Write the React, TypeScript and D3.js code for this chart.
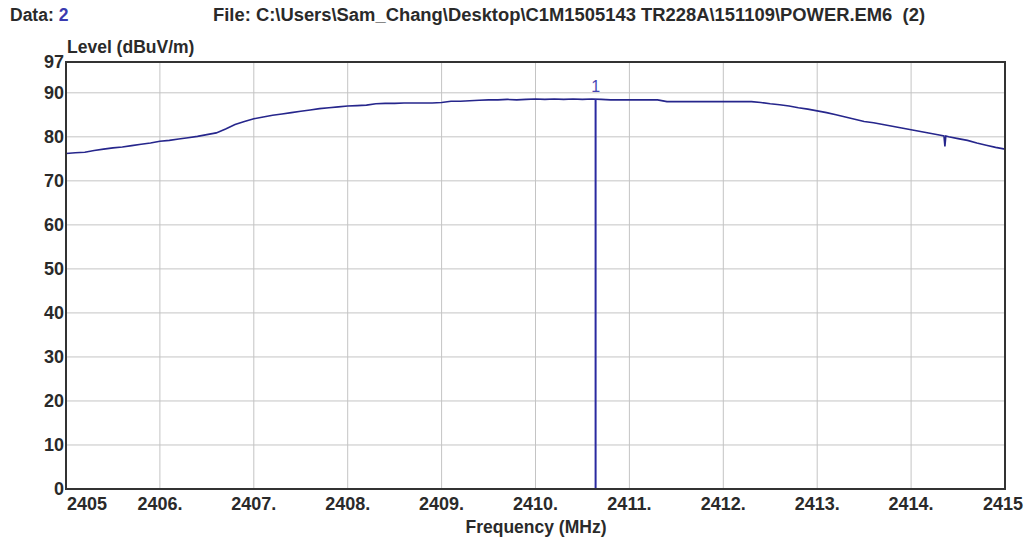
import React from "react";
import * as d3 from "d3";

const freq = [
  2405.0, 2405.1, 2405.2, 2405.3, 2405.4, 2405.5, 2405.6, 2405.7, 2405.8, 2405.9,
  2406.0, 2406.1, 2406.2, 2406.3, 2406.4, 2406.5, 2406.6, 2406.7, 2406.8, 2406.9,
  2407.0, 2407.1, 2407.2, 2407.3, 2407.4, 2407.5, 2407.6, 2407.7, 2407.8, 2407.9,
  2408.0, 2408.1, 2408.2, 2408.3, 2408.4, 2408.5, 2408.6, 2408.7, 2408.8, 2408.9,
  2409.0, 2409.1, 2409.2, 2409.3, 2409.4, 2409.5, 2409.6, 2409.7, 2409.8, 2409.9,
  2410.0, 2410.1, 2410.2, 2410.3, 2410.4, 2410.5, 2410.6, 2410.7, 2410.8, 2410.9,
  2411.0, 2411.1, 2411.2, 2411.3, 2411.4, 2411.5, 2411.6, 2411.7, 2411.8, 2411.9,
  2412.0, 2412.1, 2412.2, 2412.3, 2412.4, 2412.5, 2412.6, 2412.7, 2412.8, 2412.9,
  2413.0, 2413.1, 2413.2, 2413.3, 2413.4, 2413.5, 2413.6, 2413.7, 2413.8, 2413.9,
  2414.0, 2414.1, 2414.2, 2414.3, 2414.35, 2414.36, 2414.37, 2414.4, 2414.5, 2414.6,
  2414.7, 2414.8, 2414.9, 2415.0,
];

const level = [
  76.2, 76.4, 76.5, 76.9, 77.2, 77.5, 77.7, 78.0, 78.3, 78.6,
  79.0, 79.2, 79.5, 79.8, 80.1, 80.5, 80.9, 81.8, 82.8, 83.5,
  84.1, 84.5, 84.9, 85.2, 85.5, 85.8, 86.1, 86.4, 86.6, 86.8,
  87.0, 87.1, 87.2, 87.5, 87.6, 87.6, 87.7, 87.7, 87.7, 87.7,
  87.8, 88.1, 88.1, 88.2, 88.3, 88.4, 88.4, 88.5, 88.4, 88.5,
  88.6, 88.5, 88.6, 88.5, 88.6, 88.5, 88.6, 88.5, 88.4, 88.4,
  88.4, 88.4, 88.4, 88.4, 88.0, 88.0, 88.0, 88.0, 88.0, 88.0,
  88.0, 88.0, 88.0, 88.0, 87.8, 87.5, 87.3, 87.0, 86.6, 86.3,
  85.9, 85.5, 85.0, 84.5, 84.0, 83.5, 83.2, 82.8, 82.4, 82.0,
  81.6, 81.2, 80.8, 80.4, 80.2, 77.8, 80.2, 80.0, 79.6, 79.2,
  78.6, 78.1, 77.6, 77.2,
];

const xTicks = [2405, 2406, 2407, 2408, 2409, 2410, 2411, 2412, 2413, 2414, 2415];
const xTickLabels = ["2405", "2406.", "2407.", "2408.", "2409.", "2410.", "2411.", "2412.", "2413.", "2414.", "2415"];
const yTicks = [0, 10, 20, 30, 40, 50, 60, 70, 80, 90, 97];

const markerFreq = 2410.64;
const markerLevel = 88.6;
const markerLabel = "1";

const dataLabel = "Data: ";
const dataNum = "2";
const fileLabel = "File: C:\\Users\\Sam_Chang\\Desktop\\C1M1505143 TR228A\\151109\\POWER.EM6  (2)";
const yTitle = "Level (dBuV/m)";
const xTitle = "Frequency (MHz)";

export default function App() {
  const W = 1033;
  const H = 539;
  const left = 66, right = 1005, top = 62, bottom = 489;
  const x = d3.scaleLinear().domain([2405, 2415]).range([left, right]);
  const y = d3.scaleLinear().domain([0, 97]).range([bottom, top]);
  const pts: [number, number][] = freq.map((f, i) => [f, level[i]]);
  const line = d3
    .line<[number, number]>()
    .x((d) => x(d[0]))
    .y((d) => y(d[1]));
  const font = "'Liberation Sans', Arial, sans-serif";
  const txt = "#2a2a2a";
  const blue = "#26268c";

  return (
    <svg
      width={W}
      height={H}
      style={{ position: "absolute", left: 0, top: 0, background: "#fff" }}
      fontFamily={font}
    >
      <rect x={0} y={0} width={W} height={H} fill="#fff" />
      {/* header */}
      <text x={10} y={21} fontSize={17.5} fontWeight="bold" fill={txt}>
        {dataLabel}
        <tspan fill="#3a3ab0">{dataNum}</tspan>
      </text>
      <text
        x={213}
        y={21}
        fontSize={17.5}
        fontWeight="bold"
        fill={txt}
        textLength={712}
        lengthAdjust="spacingAndGlyphs"
        style={{ whiteSpace: "pre" }}
      >
        {fileLabel}
      </text>
      <text x={67} y={53} fontSize={17.5} fontWeight="bold" fill={txt}>
        {yTitle}
      </text>
      {/* grid */}
      {xTicks.slice(1, -1).map((t) => (
        <line key={"gx" + t} x1={x(t)} x2={x(t)} y1={top} y2={bottom} stroke="#c4c4c4" strokeWidth={1} />
      ))}
      {yTicks.filter((t) => t > 0 && t < 97).map((t) => (
        <line key={"gy" + t} x1={left} x2={right} y1={y(t)} y2={y(t)} stroke="#c4c4c4" strokeWidth={1} />
      ))}
      {/* y labels */}
      {yTicks.map((t) => (
        <text
          key={"yl" + t}
          x={64}
          y={y(t)}
          dy="0.36em"
          textAnchor="end"
          fontSize={18}
          fontWeight="bold"
          fill={txt}
        >
          {t}
        </text>
      ))}
      {/* x labels */}
      {xTicks.map((t, i) => (
        <text
          key={"xl" + t}
          x={i === 0 ? left + 1 : i === xTicks.length - 1 ? 1023 : x(t)}
          y={510}
          textAnchor={i === 0 ? "start" : i === xTicks.length - 1 ? "end" : "middle"}
          fontSize={18}
          fontWeight="bold"
          fill={txt}
        >
          {xTickLabels[i]}
        </text>
      ))}
      <text x={536} y={533} textAnchor="middle" fontSize={17.5} fontWeight="bold" fill={txt}>
        {xTitle}
      </text>
      {/* curve */}
      <path d={line(pts) || ""} fill="none" stroke={blue} strokeWidth={1.6} />
      {/* marker */}
      <line
        x1={x(markerFreq)}
        x2={x(markerFreq)}
        y1={y(markerLevel)}
        y2={bottom}
        stroke="#2a2aa0"
        strokeWidth={2}
      />
      <text x={x(markerFreq)} y={y(markerLevel) - 7} textAnchor="middle" fontSize={16} fill="#4646b4">
        {markerLabel}
      </text>
      {/* border */}
      <rect x={left} y={top} width={right - left} height={bottom - top} fill="none" stroke="#333" strokeWidth={2} />
    </svg>
  );
}
